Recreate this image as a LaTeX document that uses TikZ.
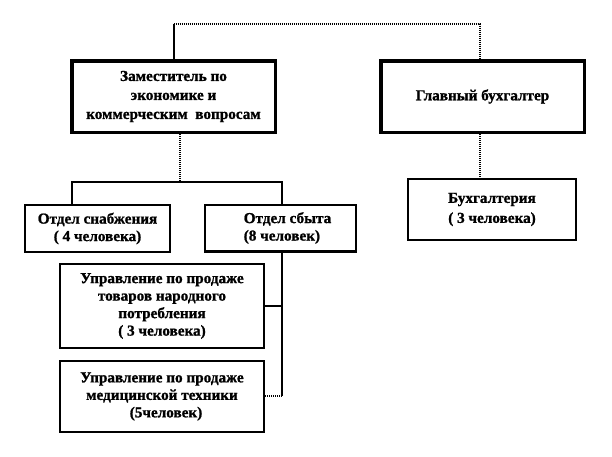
\documentclass[tikz,border=0pt]{standalone}
\usepackage{fontspec}
\setmainfont{Liberation Serif}[BoldFeatures={FakeBold=1.2}]
\begin{document}
\begin{tikzpicture}[x=1pt,y=-1pt,
  bigbox/.style={draw=black, line width=3.5pt, rectangle, inner sep=0pt,
    align=center, font=\fontsize{15.2}{19}\selectfont\bfseries},
  smallbox/.style={draw=black, line width=2.4pt, rectangle, inner sep=0pt,
    align=center, font=\fontsize{15.2}{17.5}\selectfont\bfseries},
  solidline/.style={draw=black, line width=2pt},
  dotline/.style={draw=black, line width=1.6pt, dash pattern=on 1pt off 1pt}]
\useasboundingbox (0,0) rectangle (612,456);
\node[bigbox, minimum width=203.5pt, minimum height=71.5pt] (zam) at (173.5,96.5)
  {Заместитель по\\экономике и\\коммерческим \ вопросам};
\node[bigbox, minimum width=203.5pt, minimum height=71.5pt] (glav) at (482.5,96.5)
  {Главный бухгалтер};
\node[smallbox, minimum width=167.6pt, minimum height=60.6pt, font=\fontsize{15.2}{20}\selectfont\bfseries] (buh) at (492,209.5)
  {Бухгалтерия\\( 3 человека)};
\node[smallbox, minimum width=144.6pt, minimum height=46.6pt] (snab) at (97.5,228.5)
  {Отдел снабжения\\( 4 человека)};
\node[smallbox, minimum width=150.6pt, minimum height=46.6pt, align=left] (sbyt) at (280.5,228)
  {\hspace*{14pt}Отдел сбыта\\\hspace*{14pt}(8 человек)};
\node[smallbox, minimum width=203.6pt, minimum height=83.6pt] (up1) at (162,306)
  {Управление по продаже\\товаров народного\\потребления\\( 3 человека)};
\node[smallbox, minimum width=203.6pt, minimum height=70.6pt] (up2) at (162,396.5)
  {Управление по продаже\\медицинской техники\\\hspace*{8pt}(5человек)};
\coordinate (topL) at (173.5,24);
\coordinate (topR) at (480,24);
\coordinate (split) at (180,182);
\coordinate (hubL) at (72,182);
\coordinate (hubR) at (282,182);
\coordinate (sbytEnd) at (282,396);
\draw[solidline] (zam.north) -- (topL);
\draw[dotline] (topL) -- (topR) -- (topR |- glav.north);
\draw[dotline] (split |- zam.south) -- (split);
\draw[solidline] (hubL |- snab.north) -- (hubL) -- (hubR) -- (hubR |- sbyt.north);
\draw[solidline] (hubR |- sbyt.south) -- (sbytEnd);
\draw[solidline] (up1.east) -- (up1.east -| sbytEnd);
\draw[dotline] (up2.east |- sbytEnd) -- (sbytEnd);
\draw[dotline] (topR |- glav.south) -- (topR |- buh.north);
\end{tikzpicture}
\end{document}
